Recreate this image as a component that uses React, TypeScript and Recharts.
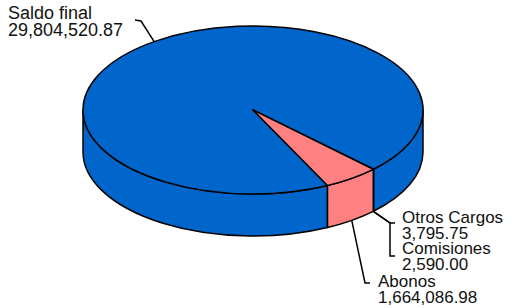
import React from 'react';
import { PieChart, Pie } from 'recharts';

// Slices, in the order they run clockwise from the back edge of "Abonos"
const categories = ['Saldo final', 'Otros Cargos', 'Comisiones', 'Abonos'];
const amounts = [29804520.87, 3795.75, 2590.0, 1664086.98];
const sliceColors = ['#0066CC', '#FFFFCC', '#CCFFFF', '#FF8080'];

const data = categories.map((name, i) => ({ name, value: amounts[i] }));

// 3D look: the flat pie is squashed into an ellipse and given a side wall
const TILT = 84 / 170;
const DEPTH = 42;
const RAD = Math.PI / 180;
const FONT = '"Liberation Sans", Arial, sans-serif';

// where each label sits and how its leader line bends
const labelLayout: Record<string, { bend: number[][]; x: number; y: number; size: number; onTop: boolean }> = {
  'Saldo final': { bend: [[141, 21], [135, 20]], x: 8, y: 19, size: 18, onTop: true },
  'Otros Cargos': { bend: [[390, 223], [395, 223]], x: 402, y: 223, size: 17, onTop: false },
  Comisiones: { bend: [[390, 223], [390, 256], [395, 256]], x: 402, y: 254, size: 17, onTop: false },
  Abonos: { bend: [[365, 283], [370, 283]], x: 378, y: 287, size: 17, onTop: false },
};

const fmt = (v: number) => v.toLocaleString('en-US', { minimumFractionDigits: 2, maximumFractionDigits: 2 });

const onEllipse = (cx: number, cy: number, rx: number, ry: number, angle: number, dy = 0) => ({
  x: cx + rx * Math.cos(angle * RAD),
  y: cy - ry * Math.sin(angle * RAD) + dy,
});

// side wall of a slice: only the part on the front half of the pie shows
const renderSide = (props: any) => {
  const { cx, cy, outerRadius, startAngle, endAngle, index } = props;
  const rx = outerRadius;
  const ry = outerRadius * TILT;
  const lo = Math.min(startAngle, endAngle);
  const hi = Math.max(startAngle, endAngle);
  const parts = [];
  for (let k = -2; k <= 1; k++) {
    const a = Math.max(lo, -180 + 360 * k);
    const b = Math.min(hi, 360 * k);
    if (b <= a) continue;
    const p1 = onEllipse(cx, cy, rx, ry, b);
    const p2 = onEllipse(cx, cy, rx, ry, a);
    const p3 = onEllipse(cx, cy, rx, ry, a, DEPTH);
    const p4 = onEllipse(cx, cy, rx, ry, b, DEPTH);
    const large = b - a > 180 ? 1 : 0;
    const d = `M${p1.x},${p1.y} A${rx},${ry} 0 ${large} 1 ${p2.x},${p2.y} L${p3.x},${p3.y} A${rx},${ry} 0 ${large} 0 ${p4.x},${p4.y} Z`;
    parts.push(
      <path key={k} d={d} fill={sliceColors[index]} stroke="#000" strokeWidth={1.5} strokeLinejoin="round" />
    );
  }
  return <g>{parts}</g>;
};

// top face of a slice, plus its label and leader line
const renderTop = (props: any) => {
  const { cx, cy, outerRadius, startAngle, endAngle, index } = props;
  const rx = outerRadius;
  const ry = outerRadius * TILT;
  const s = onEllipse(cx, cy, rx, ry, startAngle);
  const e = onEllipse(cx, cy, rx, ry, endAngle);
  const large = Math.abs(startAngle - endAngle) > 180 ? 1 : 0;
  const sweep = startAngle > endAngle ? 1 : 0;
  const d = `M${cx},${cy} L${s.x},${s.y} A${rx},${ry} 0 ${large} ${sweep} ${e.x},${e.y} Z`;

  const name = categories[index];
  const lay = labelLayout[name];
  const mid = (startAngle + endAngle) / 2;
  const anchor = onEllipse(cx, cy, rx, ry, mid, lay.onTop ? 0 : DEPTH);
  const pts = [[anchor.x, anchor.y], ...lay.bend].map((p) => p.join(',')).join(' ');
  const lineH = lay.size * 0.94;

  return (
    <g>
      <path d={d} fill={sliceColors[index]} stroke="#000" strokeWidth={1.5} strokeLinejoin="round" />
      <polyline points={pts} fill="none" stroke="#000" strokeWidth={1.5} />
      <text x={lay.x} y={lay.y} fontFamily={FONT} fontSize={lay.size} fill="#111">
        <tspan x={lay.x}>{name}</tspan>
        <tspan x={lay.x} dy={lineH}>{fmt(amounts[index])}</tspan>
      </text>
    </g>
  );
};

const App: React.FC = () => {
  return (
    <div style={{ position: 'absolute', left: 0, top: 0, width: 514, height: 308, background: '#fff' }}>
      <PieChart width={514} height={308} margin={{ top: 0, right: 0, bottom: 0, left: 0 }}>
        <Pie
          data={data}
          dataKey="value"
          nameKey="name"
          cx={253}
          cy={110}
          outerRadius={170}
          startAngle={-64}
          endAngle={-424}
          fill="none"
          stroke="none"
          label={renderSide}
          labelLine={false}
          isAnimationActive={false}
        />
        <Pie
          data={data}
          dataKey="value"
          nameKey="name"
          cx={253}
          cy={110}
          outerRadius={170}
          startAngle={-64}
          endAngle={-424}
          fill="none"
          stroke="none"
          label={renderTop}
          labelLine={false}
          isAnimationActive={false}
        />
      </PieChart>
    </div>
  );
};

export default App;
